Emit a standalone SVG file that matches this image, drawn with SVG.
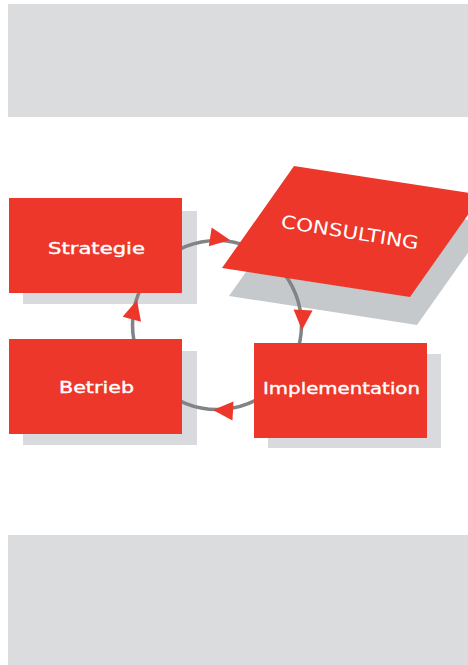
<svg xmlns="http://www.w3.org/2000/svg" width="468" height="665" viewBox="0 0 468 665">
<style>
.band{fill:#dbdcde}
.shadow{fill:#d8dadd}
.pshadow{fill:#c6c9cc}
.box{fill:#ee372b}
.lbl{fill:#ffffff;stroke:#ffffff;stroke-width:0.35;font-family:"DejaVu Sans","Liberation Sans",sans-serif;font-size:15px;text-anchor:middle}
.ring{fill:none;stroke:#818386;stroke-width:3.5}
.arrow{fill:#ee372b}
</style>
<defs>
<polygon id="ah" points="-20,-9.5 0,0 -20,9.5"/>
</defs>
<rect class="band" x="8" y="4" width="460" height="113"/>
<rect class="band" x="8" y="535" width="460" height="130"/>
<g id="shadows">
<rect class="shadow" x="23" y="211" width="174" height="93"/>
<rect class="shadow" x="23" y="351" width="174" height="94"/>
<rect class="shadow" x="268" y="354" width="173" height="94"/>
<polygon class="pshadow" points="301,194 489,223 417,325 229,296"/>
</g>
<g id="connectors">
<circle class="ring" cx="217" cy="325" r="84.5"/>
</g>
<g id="strategie">
<rect class="box" x="9" y="198" width="173" height="95"/>
<text class="lbl" x="96.5" y="254" textLength="97" lengthAdjust="spacingAndGlyphs">Strategie</text>
</g>
<g id="betrieb">
<rect class="box" x="9" y="339" width="173" height="95"/>
<text class="lbl" x="96.5" y="393" textLength="75" lengthAdjust="spacingAndGlyphs">Betrieb</text>
</g>
<g id="implementation">
<rect class="box" x="254" y="343" width="173" height="95"/>
<text class="lbl" x="341.5" y="394" textLength="157" lengthAdjust="spacingAndGlyphs">Implementation</text>
</g>
<g id="consulting">
<polygon class="box" points="294,166 482,195 410,297 222,268"/>
<text class="lbl" x="350" y="238.5" textLength="139" lengthAdjust="spacingAndGlyphs" transform="rotate(9 350 232)" style="font-size:18px;stroke-width:0">CONSULTING</text>
</g>
<g id="arrowheads">
<use href="#ah" class="arrow" transform="translate(230,240) rotate(8.7)"/>
<use href="#ah" class="arrow" transform="translate(302,330) rotate(93)"/>
<use href="#ah" class="arrow" transform="translate(213,410) rotate(183)"/>
<use href="#ah" class="arrow" transform="translate(137,300) rotate(-75)"/>
</g>
</svg>
